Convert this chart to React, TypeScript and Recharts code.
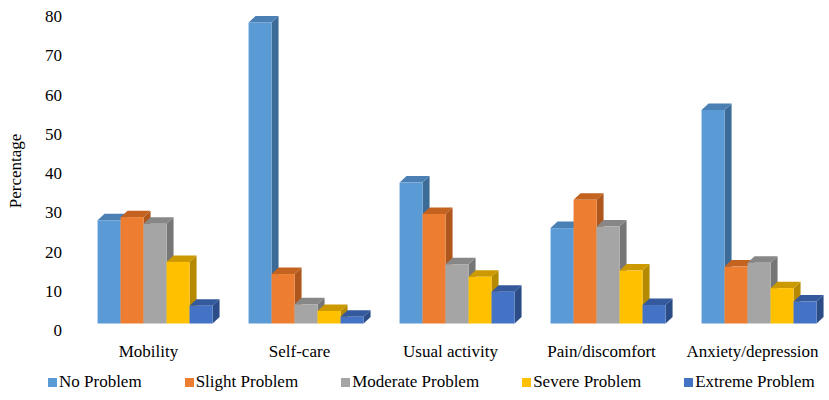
import { BarChart, Bar, XAxis, YAxis, Legend } from 'recharts';

const categories = ['Mobility', 'Self-care', 'Usual activity', 'Pain/discomfort', 'Anxiety/depression'];

const noProblem = [26.3, 76.7, 35.9, 24.3, 54.4];
const slightProblem = [27.1, 12.6, 27.9, 31.5, 14.5];
const moderateProblem = [25.4, 4.9, 15.1, 24.7, 15.5];
const severeProblem = [15.7, 3.2, 11.9, 13.5, 9.0];
const extremeProblem = [4.5, 1.7, 8.1, 4.7, 5.6];

const yTicks = [0, 10, 20, 30, 40, 50, 60, 70, 80];

// front, top face, side face
const SERIES = [
  { key: 'noProblem', name: 'No Problem', values: noProblem, front: '#5B9BD5', top: '#4A80B4', side: '#3D6B97' },
  { key: 'slightProblem', name: 'Slight Problem', values: slightProblem, front: '#ED7D31', top: '#C4621F', side: '#AE561B' },
  { key: 'moderateProblem', name: 'Moderate Problem', values: moderateProblem, front: '#A5A5A5', top: '#878787', side: '#767676' },
  { key: 'severeProblem', name: 'Severe Problem', values: severeProblem, front: '#FFC000', top: '#CC9A00', side: '#B58900' },
  { key: 'extremeProblem', name: 'Extreme Problem', values: extremeProblem, front: '#4472C4', top: '#34599C', side: '#2B4C87' },
];

const data = categories.map((name, i) => {
  const row: Record<string, string | number> = { name };
  SERIES.forEach((s) => {
    row[s.key] = s.values[i];
  });
  return row;
});

const FONT = '"Liberation Serif", "Times New Roman", serif';

// fake 3d: bars sit half way into the floor, and are as deep as that offset
const OFF_X = 7.5;
const OFF_Y = 6.5;
const DEPTH_X = 7;
const DEPTH_Y = 6.5;

function makeShape(front: string, top: string, side: string) {
  return (props: any) => {
    const { x, y, width, height } = props;
    if (width == null || height == null) return <g />;
    const fx = x + OFF_X;
    const fy = y - OFF_Y;
    const w = width;
    const h = Math.max(0, height);
    return (
      <g>
        <polygon
          points={`${fx + w},${fy} ${fx + w + DEPTH_X},${fy - DEPTH_Y} ${fx + w + DEPTH_X},${fy + h - DEPTH_Y} ${fx + w},${fy + h}`}
          fill={side}
        />
        <polygon
          points={`${fx},${fy} ${fx + DEPTH_X},${fy - DEPTH_Y} ${fx + w + DEPTH_X},${fy - DEPTH_Y} ${fx + w},${fy}`}
          fill={top}
        />
        <rect x={fx} y={fy} width={w} height={h} fill={front} />
      </g>
    );
  };
}

function renderYTitle(props: any) {
  const vb = props.viewBox ?? { x: 0, y: 16, width: 73, height: 314 };
  const cx = vb.x + 15;
  const cy = vb.y + vb.height / 2 - 2;
  return (
    <text
      x={cx}
      y={cy}
      transform={`rotate(-90, ${cx}, ${cy})`}
      textAnchor="middle"
      dominantBaseline="central"
      fontSize={17}
      fontFamily={FONT}
      fill="#000"
    >
      Percentage
    </text>
  );
}

function renderLegend() {
  return (
    <div style={{ display: 'flex', alignItems: 'center', paddingLeft: 48, gap: 43, fontFamily: FONT, fontSize: 17, lineHeight: '20px', color: '#000' }}>
      {SERIES.map((s) => (
        <div key={s.key} style={{ display: 'flex', alignItems: 'center', whiteSpace: 'nowrap' }}>
          <span style={{ display: 'inline-block', width: 9, height: 9, background: s.front, marginRight: 2 }} />
          <span>{s.name}</span>
        </div>
      ))}
    </div>
  );
}

export default function App() {
  return (
    <div style={{ position: 'absolute', left: 0, top: 0, background: '#fff' }}>
      <BarChart
        width={829}
        height={400}
        data={data}
        margin={{ top: 16, right: 1, left: 0, bottom: 40 }}
        barGap={0}
        barCategoryGap="11.3%"
        style={{ fontFamily: FONT }}
      >
        <XAxis
          dataKey="name"
          height={30}
          axisLine={false}
          tickLine={false}
          tickSize={0}
          tickMargin={15}
          interval={0}
          tick={{ fill: '#000', fontSize: 17, fontFamily: FONT }}
        />
        <YAxis
          width={73}
          domain={[0, 80]}
          ticks={yTicks}
          interval={0}
          axisLine={false}
          tickLine={false}
          tickSize={0}
          tickMargin={11}
          tick={{ fill: '#000', fontSize: 17, fontFamily: FONT }}
          label={renderYTitle}
        />
        <Legend
          layout="horizontal"
          verticalAlign="middle"
          align="center"
          wrapperStyle={{ top: 372, left: 0, width: 829 }}
          content={renderLegend}
        />
        {SERIES.map((s) => (
          <Bar
            key={s.key}
            dataKey={s.key}
            name={s.name}
            fill={s.front}
            shape={makeShape(s.front, s.top, s.side)}
            isAnimationActive={false}
          />
        ))}
      </BarChart>
    </div>
  );
}
